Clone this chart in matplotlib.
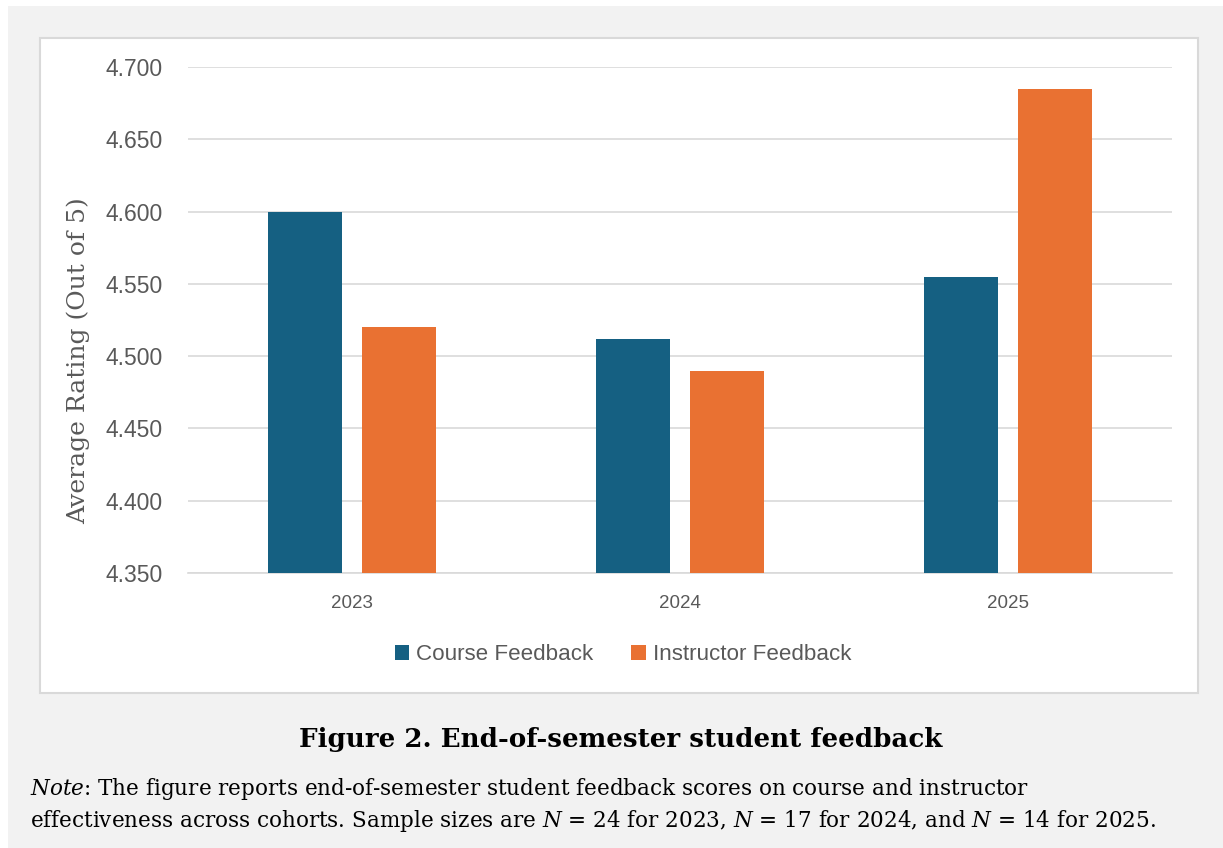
import matplotlib.pyplot as plt
from matplotlib.patches import Rectangle, Patch
import numpy as np

# Average rating per cohort
years = ["2023", "2024", "2025"]
course_feedback = [4.600, 4.512, 4.555]
instructor_feedback = [4.520, 4.490, 4.685]
y_ticks = [4.350, 4.400, 4.450, 4.500, 4.550, 4.600, 4.650, 4.700]

BLUE = "#156082"
ORANGE = "#E97132"
GREY_TEXT = "#595959"
GRID = "#d9d9d9"

plt.rcParams["mathtext.fontset"] = "custom"
plt.rcParams["mathtext.rm"] = "DejaVu Serif"
plt.rcParams["mathtext.it"] = "DejaVu Serif:italic"

W, H = 1223, 848
fig = plt.figure(figsize=(W / 100, H / 100), dpi=100, facecolor="white")

# page background and white chart box
fig.patches.append(Rectangle((8 / W, 0), 1, 1 - 6 / H, transform=fig.transFigure,
                             facecolor="#f2f2f2", edgecolor="none", zorder=-3))
fig.patches.append(Rectangle((40 / W, 1 - 693 / H), (1198 - 40) / W, (693 - 38) / H,
                             transform=fig.transFigure, facecolor="white",
                             edgecolor=GRID, linewidth=1.5, zorder=-2))

ax = fig.add_axes([188 / W, 1 - 573 / H, (1172 - 188) / W, (573 - 67) / H])
ax.set_facecolor("none")

x = np.arange(len(years))
width = 0.225
gap = 0.061
ax.bar(x - (width + gap) / 2, course_feedback, width, color=BLUE, zorder=3)
ax.bar(x + (width + gap) / 2, instructor_feedback, width, color=ORANGE, zorder=3)

ax.set_xlim(-0.5, 2.5)
ax.set_ylim(4.35, 4.70)
ax.set_yticks(y_ticks)
ax.set_yticklabels([f"{v:.3f}" for v in y_ticks], fontsize=16.5, color=GREY_TEXT,
                   family="Liberation Sans")
ax.set_xticks(x)
ax.set_xticklabels(years, fontsize=13.5, color=GREY_TEXT, family="Liberation Sans")
ax.tick_params(axis="y", length=0, pad=18)
ax.tick_params(axis="x", length=0, pad=16)
ax.grid(axis="y", color=GRID, linewidth=1.2, zorder=0)
for side in ["top", "right", "left"]:
    ax.spines[side].set_visible(False)
ax.spines["bottom"].set_color(GRID)
ax.spines["bottom"].set_linewidth(1.2)

fig.text(78 / W, 1 - 361 / H, "Average Rating (Out of 5)", rotation=90,
         ha="center", va="center", fontsize=18, color=GREY_TEXT,
         family="DejaVu Serif")

handles = [Patch(facecolor=BLUE, label="Course Feedback"),
           Patch(facecolor=ORANGE, label="Instructor Feedback")]
fig.legend(handles=handles, loc="center", bbox_to_anchor=(623 / W, 1 - 655 / H),
           ncol=2, frameon=False, handlelength=0.65, handleheight=0.65,
           handletextpad=0.3, columnspacing=1.7,
           prop={"family": "Liberation Sans", "size": 16.1}, labelcolor=GREY_TEXT)

fig.text(621 / W, 1 - 740 / H, "Figure 2. End-of-semester student feedback",
         ha="center", va="center", fontsize=18.8, fontweight="bold",
         family="DejaVu Serif", color="black")

fig.text(30 / W, 1 - 789 / H,
         r"$\mathit{Note}$: The figure reports end-of-semester student feedback scores on course and instructor",
         ha="left", va="center", fontsize=15.5, family="DejaVu Serif", color="black")
fig.text(30 / W, 1 - 821 / H,
         r"effectiveness across cohorts. Sample sizes are $\mathit{N}$ = 24 for 2023, $\mathit{N}$ = 17 for 2024, and $\mathit{N}$ = 14 for 2025.",
         ha="left", va="center", fontsize=15.5, family="DejaVu Serif", color="black")

fig.savefig("out.png", dpi=100, facecolor="white")
